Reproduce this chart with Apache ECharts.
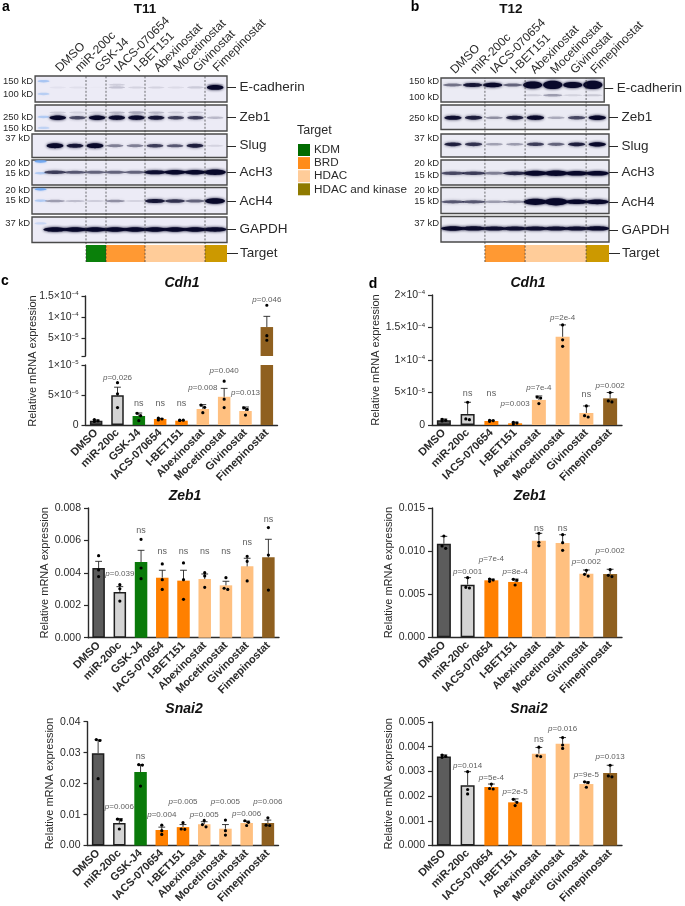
<!DOCTYPE html>
<html><head><meta charset="utf-8">
<script src="https://cdn.jsdelivr.net/npm/echarts@6/dist/echarts.min.js"></script>
<style>html,body{margin:0;padding:0;background:#fff}#c{width:685px;height:906px;filter:blur(.3px)}</style>
</head><body><div id="c"></div>
<script>
// ---------- categories ----------
const namesT11 = ['DMSO','miR-200c','GSK-J4','IACS-070654','I-BET151','Abexinostat','Mocetinostat','Givinostat','Fimepinostat'];
const namesT12 = ['DMSO','miR-200c','IACS-070654','I-BET151','Abexinostat','Mocetinostat','Givinostat','Fimepinostat'];
const groupsT11 = ['ctrl','mir','KDM','BRD','BRD','HDAC','HDAC','HDAC','KIN'];
const groupsT12 = ['ctrl','mir','BRD','BRD','HDAC','HDAC','HDAC','KIN'];
const legendNames = ['KDM','BRD','HDAC','HDAC and kinase'];

// ---------- western blot band strengths, per lane ----------
const aEcad = [.04,.05,.01,.16,.1,.1,.07,.13,1.15];
const aEcadTop = [0,0,0,.12,0,0,0,0,.15];
const aZeb = [1,.6,1,.95,.95,.85,.65,.65,.2];
const aZebTop = [.12,.1,.1,.2,.25,.2,.12,.12,0];
const aSlug = [1.15,.85,1.15,.4,.4,.65,.55,.8,.1];
const aAcH3 = [.65,.55,.5,.5,.5,.9,1,1,1.35];
const aAcH4 = [.3,.18,.12,.35,.1,.85,.7,.5,1.4];
const aGapdh = [1.05,1,1,1,1,1,1,1,.95];
const bEcad = [.45,.85,1.05,.5,2,2.5,1.6,2.5];
const bEcadSmear = [0,0,0,0,.12,.3,.1,.14];
const bZeb = [.9,.8,.35,.8,.95,.25,.6,1];
const bSlug = [.8,.7,.28,.3,.65,.5,.8,1];
const bAcH3 = [.6,.65,.4,.75,1.25,1.35,1.1,1.1];
const bAcH4 = [.55,.55,.3,.35,1.7,2.1,1.05,1.15];
const bGapdh = [1,.95,.9,.9,.9,.9,.9,.95];

// ---------- qPCR: bar means, error tops, replicates ----------
const cCdh1Mean = [.72e-6,4.95e-6,1.5e-6,1.0e-6,.72e-6,2.67e-6,4.7e-6,2.33e-6,7.6e-5];
const cCdh1Top  = [.85e-6,6.3e-6,2.0e-6,1.1e-6,.78e-6,3.4e-6,6.1e-6,3.0e-6,10.15e-5];
const cCdh1Pts  = [[.9e-6,.7e-6,.6e-6],[7.05e-6,5.2e-6,2.9e-6],[1.95e-6,1.55e-6,.72e-6],[1.15e-6,1e-6,.85e-6],[.8e-6,.8e-6,.75e-6],[3.3e-6,2.95e-6,2.05e-6],[7.3e-6,4.3e-6,2.9e-6],[2.85e-6,2.6e-6,1.65e-6],[12.8e-5,5.55e-5,4.45e-5]];
const cCdh1Notes = ['','p=0.026','ns','ns','ns','p=0.008','p=0.040','p=0.013','p=0.046'];
const cCdh1NoteAt = [0,7.95e-6,3.5e-6,3.6e-6,3.55e-6,6.2e-6,9.0e-6,5.3e-6,14.2e-5];

const dCdh1Mean = [.72e-5,1.7e-5,.62e-5,.26e-5,3.86e-5,13.57e-5,1.85e-5,4.1e-5];
const dCdh1Top  = [.93e-5,3.5e-5,.72e-5,.46e-5,4.47e-5,15.4e-5,2.93e-5,5e-5];
const dCdh1Pts  = [[.87e-5,.72e-5,.62e-5],[3.5e-5,.93e-5,.82e-5],[.72e-5,.67e-5,.57e-5],[.4e-5,.3e-5,.15e-5],[4.3e-5,4.15e-5,3.3e-5],[15.4e-5,13.1e-5,12.1e-5],[2.93e-5,1.44e-5,1.23e-5],[5e-5,3.7e-5,3.55e-5]];
const dCdh1Notes = ['','ns','ns','p=0.003','p=7e-4','p=2e-4','ns','p=0.002'];
const dCdh1NoteAt = [0,4.78e-5,4.78e-5,3.2e-5,5.66e-5,16.55e-5,4.73e-5,6.0e-5];

const cZebMean = [.0043,.00282,.00467,.0037,.00352,.00362,.00323,.0044,.00496];
const cZebTop  = [.00471,.00315,.00539,.00416,.00416,.00393,.00348,.0049,.00607];
const cZebPts  = [[.00506,.00418,.00377],[.00327,.00302,.00226],[.00607,.0043,.00364],[.00455,.00358,.00298],[.00461,.00358,.00237],[.00401,.00381,.00311],[.0037,.00305,.00298],[.00502,.00471,.0035],[.00679,.0051,.00294]];
const cZebNotes = ['','p=0.039','ns','ns','ns','ns','ns','ns','ns'];
const cZebNoteAt = [0,.00397,.0066,.00529,.00531,.00529,.00529,.00588,.00726];

const dZebMean = [.01086,.00611,.00661,.00642,.01121,.01094,.00738,.00734];
const dZebTop  = [.01171,.00692,.00676,.00676,.01206,.0119,.00781,.00789];
const dZebPts  = [[.01175,.01059,.01032],[.00692,.0058,.00572],[.00676,.00665,.00649],[.00673,.00661,.00607],[.01206,.01102,.01063],[.0119,.01098,.01009],[.00777,.00731,.0071],[.00785,.00719,.00704]];
const dZebNotes = ['','p=0.001','p=7e-4','p=8e-4','ns','ns','p=0.002','p=0.002'];
const dZebNoteAt = [0,.00758,.00905,.00761,.01264,.01264,.00877,.01005];

const cSnaMean = [.02982,.0073,.02375,.00504,.00596,.00689,.00545,.0073,.0073];
const cSnaTop  = [.03414,.00874,.02612,.00596,.00679,.00771,.00679,.00792,.00823];
const cSnaPts  = [[.03424,.03393,.0216],[.00853,.00823,.00535],[.02612,.026,.01923],[.00658,.00483,.0036],[.0074,.00535,.00524],[.00812,.00679,.00607],[.00823,.00483,.00339],[.00802,.00751,.00648],[.00895,.00658,.00648]];
const cSnaNotes = ['','p=0.006','ns','p=0.004','p=0.005','p=0.005','p=0.005','p=0.006','p=0.006'];
const cSnaNoteAt = [0,.01265,.02869,.00997,.01409,.00997,.01409,.01039,.01429];

const dSnaMean = [.0036,.00244,.00237,.00175,.00372,.00412,.00249,.00294];
const dSnaTop  = [.00367,.00299,.00249,.00189,.00397,.00437,.00258,.00325];
const dSnaPts  = [[.00366,.00361,.00357],[.00299,.00227,.00209],[.00249,.00231,.00229],[.00187,.00175,.00162],[.00398,.00363,.0036],[.00437,.00407,.00393],[.00258,.00255,.00236],[.00325,.00282,.00278]];
const dSnaNotes = ['','p=0.014','p=5e-4','p=2e-5','ns','p=0.016','p=9e-5','p=0.013'];
const dSnaNoteAt = [0,.00323,.00274,.00216,.0043,.00472,.00285,.0036];

// ---------- tick labels ----------
const ticksCdh1CLow = [0,5e-6,1e-5];
const labelsCdh1CLow = ['0','5×10|−6','1×10|−5'];
const ticksCdh1CHigh = [.7e-5,5e-5,1e-4,1.5e-4];
const labelsCdh1CHigh = ['','5×10|−5','1×10|−4','1.5×10|−4'];
const ticksCdh1D = [0,5e-5,1e-4,1.5e-4,2e-4];
const labelsCdh1D = ['0','5×10|−5','1×10|−4','1.5×10|−4','2×10|−4'];
const ticksZebC = [0,.002,.004,.006,.008];
const labelsZebC = ['0.000','0.002','0.004','0.006','0.008'];
const ticksZebD = [0,.005,.01,.015];
const labelsZebD = ['0.000','0.005','0.010','0.015'];
const ticksSnaC = [0,.01,.02,.03,.04];
const labelsSnaC = ['0.00','0.01','0.02','0.03','0.04'];
const ticksSnaD = [0,.001,.002,.003,.004,.005];
const labelsSnaD = ['0.000','0.001','0.002','0.003','0.004','0.005'];

// ---------- styles ----------
const FONT = '"Liberation Sans", Arial, sans-serif';
const INK = '#2a2a2a';
const fills = {ctrl:'#5c5c5c',mir:'#d4d4d4',KDM:'#0a7a0a',BRD:'#ff8000',HDAC:'#ffc080',KIN:'#8f6020'};
const strips = {KDM:'#0a800a',BRD:'#ff9933',HDAC:'#ffcc99',KIN:'#cc9900'};
const legendColors = ['#006b00','#ff8c1a','#ffcc99','#8f7a00'];

const grids=[],xAxes=[],yAxes=[],series=[],graphics=[];
function addGrid(g,x,y1,y2){
  const i=grids.length; grids.push(g);
  x.gridIndex=i; xAxes.push(x);
  y1.gridIndex=i; const yi=yAxes.length; yAxes.push(y1);
  if(y2){y2.gridIndex=i; yAxes.push(y2);}
  return {x:xAxes.length-1,y:yi};
}
function text(x,y,t,o){graphics.push({type:'text',x:x,y:y,z:50,rotation:(o&&o.rot)||0,style:Object.assign({text:t,fontFamily:FONT,fontSize:12,fill:INK,textAlign:'center',textVerticalAlign:'middle',verticalAlign:'middle',align:'center'},o&&o.style)});}

// ---------- blots ----------
function blotItem(params,api){
  const c=api.coord([api.value(0),api.value(1)]);
  const level=api.value(2), kind=api.value(3), spread=api.value(4);
  const lane=api.size([1,0])[0];
  if(kind===1){
    const col='rgba(110,165,240,'+level+')';
    return {type:'ellipse',shape:{cx:c[0],cy:c[1],rx:6,ry:1.2},style:{fill:col,shadowBlur:2,shadowColor:col}};
  }
  const op=Math.min(1,level*1.02), col='rgba(8,8,42,'+op+')';
  return {type:'ellipse',shape:{cx:c[0],cy:c[1],rx:lane*spread,ry:.9+1.3*Math.min(level,3)},style:{fill:col,shadowBlur:3,shadowColor:col}};
}
function addBlot(p,row,names){
  const g={left:p.left,width:p.width,top:row.top,height:row.height,show:true,
    backgroundColor:p.bg,borderColor:'#4a4a4a',borderWidth:1.4};
  const ax=addGrid(g,
    {type:'value',min:p.xmin,max:p.xmax,position:'top',show:!!names,splitLine:{show:false},axisLine:{show:false},axisTick:{show:false},
     axisLabel:{show:!!names,customValues:names?names.map((_,i)=>i):[],formatter:v=>names?names[v]:'',rotate:45,margin:6,fontSize:12,fontFamily:FONT,color:INK}},
    {type:'value',min:0,max:1,inverse:true,position:'left',splitLine:{show:false},axisLine:{show:false},axisTick:{show:false},
     axisLabel:{customValues:row.kdAt,formatter:v=>row.kd[row.kdAt.indexOf(v)],margin:2,fontSize:9.5,fontFamily:FONT,color:INK}},
    {type:'value',min:0,max:1,inverse:true,position:'right',splitLine:{show:false},axisLine:{show:false},
     axisTick:{show:true,length:9,customValues:[row.nameAt],lineStyle:{color:INK,width:1}},
     axisLabel:{customValues:[row.nameAt],formatter:()=>row.name,margin:12.5,fontSize:13.5,fontFamily:FONT,color:INK}});
  const data=[], spread=row.spread||.42;
  (row.markers||[]).forEach(m=>data.push([p.markerLane,m[0],m[1],1,0]));
  row.bands.forEach(b=>b.levels.forEach((l,i)=>{if(l>0)data.push([i,b.at,l,0,spread]);}));
  series.push({type:'custom',xAxisIndex:ax.x,yAxisIndex:ax.y,silent:true,clip:true,renderItem:blotItem,data:data,z:2});
}
function addDashes(p,top,bottom,at){
  const ax=addGrid({left:p.left,width:p.width,top:top,height:bottom-top},
    {type:'value',min:p.xmin,max:p.xmax,show:false},{type:'value',min:0,max:1,show:false});
  series.push({type:'custom',xAxisIndex:ax.x,yAxisIndex:ax.y,silent:true,z:6,data:at.map(v=>[v]),
    renderItem:(_,api)=>{const a=api.coord([api.value(0),0]),b=api.coord([api.value(0),1]);
      return {type:'line',shape:{x1:a[0],y1:a[1],x2:b[0],y2:b[1]},style:{stroke:'#333',lineWidth:.7,lineDash:[2,1.6]}};}});
}
function addStrip(p,top,height,spans){
  const ax=addGrid({left:p.left,width:p.width,top:top,height:height},
    {type:'value',min:p.xmin,max:p.xmax,show:false},
    {type:'value',min:0,max:1,inverse:true,show:true,position:'left',axisLine:{show:false},axisTick:{show:false},axisLabel:{show:false},splitLine:{show:false}},
    {type:'value',min:0,max:1,inverse:true,position:'right',splitLine:{show:false},axisLine:{show:false},
     axisTick:{show:true,length:11,customValues:[.5],lineStyle:{color:INK,width:1}},
     axisLabel:{customValues:[.5],formatter:()=>'Target',margin:13,fontSize:13.5,fontFamily:FONT,color:INK}});
  series.push({type:'custom',xAxisIndex:ax.x,yAxisIndex:ax.y,silent:true,z:2,data:spans.map(s=>[s[0],s[1]]),
    renderItem:(params,api)=>{const a=api.coord([api.value(0),0]),b=api.coord([api.value(1),1]);
      return {type:'rect',shape:{x:a[0],y:a[1],width:b[0]-a[0],height:b[1]-a[1]},style:{fill:strips[spans[params.dataIndex][2]]}};}});
}
const pA={left:32,width:195,xmin:-1.15,xmax:8.6,markerLane:-.72,bg:'#ecebf6'};
const pB={left:441,width:168,xmin:-.58,xmax:7.57,markerLane:-.6,bg:'#ebebf4'};
addBlot(pA,{top:76,height:26,name:'E-cadherin',nameAt:.44,kd:['150 kD','100 kD'],kdAt:[.2,.69],markers:[[.2,.45],[.69,.35]],bands:[{at:.44,levels:aEcad},{at:.34,levels:aEcadTop}]},namesT11);
addBlot(pA,{top:105,height:26,name:'Zeb1',nameAt:.49,kd:['250 kD','150 kD'],kdAt:[.46,.88],markers:[[.46,.4],[.88,.3]],bands:[{at:.49,levels:aZeb},{at:.29,levels:aZebTop}]});
addBlot(pA,{top:134,height:23.5,name:'Slug',nameAt:.5,kd:['37 kD'],kdAt:[.17],bands:[{at:.5,levels:aSlug}]});
addBlot(pA,{top:160,height:25,name:'AcH3',nameAt:.49,spread:.54,kd:['20 kD','15 kD'],kdAt:[.14,.55],markers:[[.06,.9],[.53,.4]],bands:[{at:.49,levels:aAcH3}]});
addBlot(pA,{top:187.5,height:26.5,name:'AcH4',nameAt:.52,spread:.5,kd:['20 kD','15 kD'],kdAt:[.1,.5],markers:[[.07,.9],[.5,.4]],bands:[{at:.51,levels:aAcH4}]});
addBlot(pA,{top:217,height:25.5,name:'GAPDH',nameAt:.49,spread:.58,kd:['37 kD'],kdAt:[.26],markers:[[.25,.25]],bands:[{at:.49,levels:aGapdh}]});
addStrip(pA,245,17,[[1.55,2.55,'KDM'],[2.55,4.5,'BRD'],[4.5,7.5,'HDAC'],[7.5,8.6,'KIN']]);
addDashes(pA,76,262,[1.55,2.55,4.5,7.5]);

addBlot(pB,{top:78,height:24,name:'E-cadherin',nameAt:.44,spread:.48,kd:['150 kD','100 kD'],kdAt:[.13,.8],bands:[{at:.72,levels:bEcadSmear},{at:.29,levels:bEcad}]},namesT12);
addBlot(pB,{top:105,height:24.5,name:'Zeb1',nameAt:.5,kd:['250 kD'],kdAt:[.56],bands:[{at:.52,levels:bZeb}]});
addBlot(pB,{top:134,height:23,name:'Slug',nameAt:.53,kd:['37 kD'],kdAt:[.2],bands:[{at:.45,levels:bSlug}]});
addBlot(pB,{top:160,height:25,name:'AcH3',nameAt:.5,spread:.56,kd:['20 kD','15 kD'],kdAt:[.15,.61],bands:[{at:.53,levels:bAcH3}]});
addBlot(pB,{top:187.5,height:26,name:'AcH4',nameAt:.55,spread:.56,kd:['20 kD','15 kD'],kdAt:[.11,.53],bands:[{at:.55,levels:bAcH4}]});
addBlot(pB,{top:216.5,height:25.5,name:'GAPDH',nameAt:.53,spread:.58,kd:['37 kD'],kdAt:[.27],bands:[{at:.47,levels:bGapdh}]});
addStrip(pB,245,17,[[1.55,3.5,'BRD'],[3.5,6.46,'HDAC'],[6.46,7.57,'KIN']]);
addDashes(pB,78,262,[1.55,3.5,6.46]);

// ---------- bar panels ----------
const richTick={b:{fontSize:10.5,fontFamily:FONT,color:INK},s:{fontSize:6,fontFamily:FONT,color:INK,padding:[0,0,5,0]}};
function tickFmt(vals,labs){return v=>{const i=vals.findIndex(t=>Math.abs(t-v)<=1e-9*Math.max(Math.abs(t),1e-12));
  const l=i<0?'':labs[i]; if(!l)return ''; const q=l.split('|'); return q[1]?'{b|'+q[0]+'}{s|'+q[1]+'}':'{b|'+q[0]+'}';};}
function addBars(o){
  const ax=addGrid({left:o.left,width:o.width,top:o.top,height:o.height},
    {type:'category',data:o.names,show:!o.noX,axisLine:{lineStyle:{color:INK,width:1.4}},
     axisTick:{alignWithLabel:true,length:3.5,lineStyle:{color:INK,width:1.2}},
     axisLabel:{interval:0,rotate:45,margin:6,fontSize:11,fontWeight:'bold',fontFamily:FONT,color:INK}},
    {type:'value',min:o.min,max:o.max,splitLine:{show:false},
     name:o.yName||'',nameLocation:'middle',nameGap:o.nameGap,nameTextStyle:{fontSize:11,fontFamily:FONT,color:INK},
     axisLine:{show:true,onZero:false,lineStyle:{color:INK,width:1.4}},
     axisTick:{show:true,length:4,customValues:o.ticks,lineStyle:{color:INK,width:1.2}},
     axisLabel:{customValues:o.ticks,formatter:tickFmt(o.ticks,o.tickLabels),margin:7,rich:richTick}});
  series.push({type:'bar',xAxisIndex:ax.x,yAxisIndex:ax.y,barWidth:o.barW,silent:true,clip:true,z:2,
    data:o.mean.map((v,i)=>({value:o.min>0&&v<o.min?'-':v,itemStyle:{color:fills[o.groups[i]],
      borderColor:i<2?'#1e1e1e':fills[o.groups[i]],borderWidth:i<2?1.5:0}}))});
  const skip=i=>o.mean[i]>o.max||o.mean[i]<o.min;
  series.push({type:'custom',xAxisIndex:ax.x,yAxisIndex:ax.y,silent:true,z:4,
    data:o.mean.map((v,i)=>[i,v,o.top_[i]].concat(o.pts[i])),
    renderItem:(params,api)=>{
      const i=api.value(0); if(skip(i))return null;
      const m=api.coord([i,api.value(1)]),t=api.coord([i,api.value(2)]);
      const kids=[
        {type:'line',shape:{x1:m[0],y1:m[1],x2:t[0],y2:t[1]},style:{stroke:'#222',lineWidth:.9}},
        {type:'line',shape:{x1:t[0]-3.4,y1:t[1],x2:t[0]+3.4,y2:t[1]},style:{stroke:'#222',lineWidth:.9}}];
      const ys=[3,4,5].map(d=>api.coord([i,api.value(d)])[1]).sort((a,b)=>a-b);
      const dx=[0,0,0];
      for(let k=0;k<2;k++){ if(ys[k+1]-ys[k]<3){ if(dx[k]===0)dx[k]=-1.8; dx[k+1]=-dx[k]; } }
      ys.forEach((y,k)=>kids.push({type:'circle',shape:{cx:m[0]+dx[k],cy:y,r:1.6},style:{fill:'#000'}}));
      return {type:'group',children:kids};
    }});
  if(o.notes){
    const notes=[];
    o.notes.forEach((n,i)=>{ if(n && !skip(i)) notes.push([i,o.noteAt[i],n]); });
    series.push({type:'scatter',xAxisIndex:ax.x,yAxisIndex:ax.y,silent:true,z:5,symbolSize:0,data:notes,
      label:{show:true,position:'inside',
        formatter:p=>{const t=p.data[2];return t==='ns'?'{n|ns}':'{i|p}{r|'+t.slice(1)+'}';},
        rich:{n:{fontSize:9,fontFamily:FONT,color:'#333'},
              i:{fontSize:8,fontStyle:'italic',fontFamily:FONT,color:'#333'},
              r:{fontSize:8,fontFamily:FONT,color:'#333'}}}});
  }
}
const NAME='Relative mRNA expression';
const C={names:namesT11,groups:groupsT11,barW:12.5};
const D={names:namesT12,groups:groupsT12,barW:14};
addBars(Object.assign({},C,{left:85.5,width:192,top:365,height:60,min:0,max:1e-5,ticks:ticksCdh1CLow,tickLabels:labelsCdh1CLow,mean:cCdh1Mean,top_:cCdh1Top,pts:cCdh1Pts,notes:cCdh1Notes,noteAt:cCdh1NoteAt}));
addBars(Object.assign({},C,{left:85.5,width:192,top:296,height:60,min:.7e-5,max:1.5e-4,noX:true,ticks:ticksCdh1CHigh,tickLabels:labelsCdh1CHigh,mean:cCdh1Mean,top_:cCdh1Top,pts:cCdh1Pts,notes:cCdh1Notes,noteAt:cCdh1NoteAt}));
addBars(Object.assign({},D,{left:432,width:190,top:295,height:130,min:0,max:2e-4,yName:NAME,nameGap:43,ticks:ticksCdh1D,tickLabels:labelsCdh1D,mean:dCdh1Mean,top_:dCdh1Top,pts:dCdh1Pts,notes:dCdh1Notes,noteAt:dCdh1NoteAt}));
addBars(Object.assign({},C,{left:88,width:191,top:508,height:129.7,min:0,max:.008,yName:NAME,nameGap:37,ticks:ticksZebC,tickLabels:labelsZebC,mean:cZebMean,top_:cZebTop,pts:cZebPts,notes:cZebNotes,noteAt:cZebNoteAt}));
addBars(Object.assign({},D,{left:432,width:190,top:508,height:129.3,min:0,max:.015,yName:NAME,nameGap:36,ticks:ticksZebD,tickLabels:labelsZebD,mean:dZebMean,top_:dZebTop,pts:dZebPts,notes:dZebNotes,noteAt:dZebNoteAt}));
addBars(Object.assign({},C,{left:87.5,width:191,top:721.7,height:129.6,min:0,max:.04,yName:NAME,nameGap:32,ticks:ticksSnaC,tickLabels:labelsSnaC,mean:cSnaMean,top_:cSnaTop,pts:cSnaPts,notes:cSnaNotes,noteAt:cSnaNoteAt}));
addBars(Object.assign({},D,{left:432,width:190,top:722,height:129.3,min:0,max:.005,yName:NAME,nameGap:36,ticks:ticksSnaD,tickLabels:labelsSnaD,mean:dSnaMean,top_:dSnaTop,pts:dSnaPts,notes:dSnaNotes,noteAt:dSnaNoteAt}));

// ---------- free text ----------
const H={fontSize:14,fontWeight:'bold',fontStyle:'italic',fill:'#111'};
const L={fontSize:14,fontWeight:'bold',fill:'#000'};
text(6,7,'a',{style:L}); text(415,7,'b',{style:L}); text(5,281,'c',{style:L}); text(373,284,'d',{style:L});
text(145,9,'T11',{style:{fontSize:13.5,fontWeight:'bold',fill:'#111'}});
text(511,9,'T12',{style:{fontSize:13.5,fontWeight:'bold',fill:'#111'}});
text(182,283,'Cdh1',{style:H}); text(528,283,'Cdh1',{style:H});
text(185,496,'Zeb1',{style:H}); text(530,496,'Zeb1',{style:H});
text(184,709,'Snai2',{style:H}); text(529,709,'Snai2',{style:H});
text(33,361,NAME,{rot:Math.PI/2,style:{fontSize:11}});
text(297,131,'Target',{style:{fontSize:12.5,textAlign:'left',align:'left'}});
legendNames.forEach((n,i)=>{
  graphics.push({type:'rect',z:50,shape:{x:298,y:144+i*13.1,width:12,height:12},style:{fill:legendColors[i]}});
  text(314,150+i*13.1,n,{style:{fontSize:11.7,textAlign:'left',align:'left'}});
});

const chart=echarts.init(document.getElementById('c'),null,{renderer:'canvas',width:685,height:906});
chart.setOption({animation:false,backgroundColor:'#fff',textStyle:{fontFamily:FONT},tooltip:{show:false},
  grid:grids,xAxis:xAxes,yAxis:yAxes,series:series,graphic:{elements:graphics}});
</script></body></html>
